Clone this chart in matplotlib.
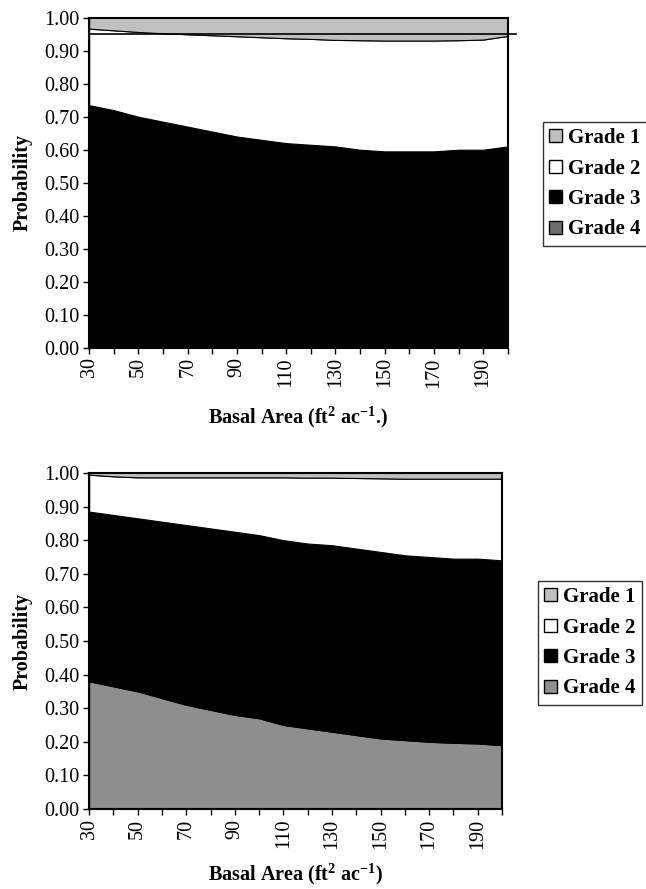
import matplotlib
matplotlib.use("Agg")
import matplotlib.pyplot as plt
from matplotlib.patches import Patch

plt.rcParams['font.family'] = ['Liberation Serif', 'DejaVu Serif']
plt.rcParams['mathtext.fontset'] = 'custom'
plt.rcParams['mathtext.rm'] = 'Liberation Serif:bold'
plt.rcParams['mathtext.bf'] = 'Liberation Serif:bold'

# basal area values
basal_area = [30, 40, 50, 60, 70, 80, 90, 100, 110, 120, 130, 140, 150, 160, 170, 180, 190, 200]

# top chart: probability of each grade
top_grade1 = [0.033, 0.038, 0.043, 0.047, 0.050, 0.053, 0.056, 0.059, 0.062, 0.064, 0.067, 0.068, 0.069, 0.069, 0.069, 0.068, 0.066, 0.055]
top_grade2 = [0.232, 0.242, 0.257, 0.268, 0.280, 0.292, 0.304, 0.311, 0.318, 0.321, 0.323, 0.332, 0.336, 0.336, 0.336, 0.332, 0.334, 0.335]
top_grade3 = [0.735, 0.720, 0.700, 0.685, 0.670, 0.655, 0.640, 0.630, 0.620, 0.615, 0.610, 0.600, 0.595, 0.595, 0.595, 0.600, 0.600, 0.610]
top_grade4 = [0.0] * 18
top_line = 0.95

# bottom chart
bot_grade1 = [0.005, 0.010, 0.013, 0.013, 0.013, 0.013, 0.013, 0.013, 0.013, 0.014, 0.014, 0.015, 0.016, 0.017, 0.017, 0.017, 0.017, 0.017]
bot_grade2 = [0.110, 0.115, 0.122, 0.132, 0.142, 0.152, 0.162, 0.172, 0.187, 0.196, 0.201, 0.210, 0.219, 0.228, 0.233, 0.238, 0.238, 0.243]
bot_grade3 = [0.505, 0.510, 0.515, 0.525, 0.535, 0.540, 0.545, 0.545, 0.550, 0.550, 0.555, 0.555, 0.555, 0.550, 0.550, 0.548, 0.550, 0.550]
bot_grade4 = [0.380, 0.365, 0.350, 0.330, 0.310, 0.295, 0.280, 0.270, 0.250, 0.240, 0.230, 0.220, 0.210, 0.205, 0.200, 0.197, 0.195, 0.190]

grades = ['Grade 1', 'Grade 2', 'Grade 3', 'Grade 4']
colors = {'Grade 1': '#c0c0c0', 'Grade 2': '#ffffff', 'Grade 3': '#000000', 'Grade 4': '#8e8e8e'}
legend_colors_top = {'Grade 1': '#c0c0c0', 'Grade 2': '#ffffff', 'Grade 3': '#000000', 'Grade 4': '#6e6e6e'}

FS = 14.5

fig = plt.figure(figsize=(6.46, 8.89), dpi=100)


def draw(ax, g1, g2, g3, g4, xlabel, leg_colors, leg_anchor, xpad):
    ax.stackplot(basal_area, g4, g3, g2, g1,
                 colors=[colors['Grade 4'], colors['Grade 3'], colors['Grade 2'], colors['Grade 1']],
                 edgecolor='black', linewidth=0.8)
    ax.set_xlim(30, 200)
    ax.set_ylim(0, 1)
    ax.set_xticks(range(30, 200, 20))
    ax.set_xticks(range(40, 201, 20), minor=True)
    ax.set_yticks([i / 10 for i in range(11)])
    ax.set_yticklabels(['%.2f' % (i / 10) for i in range(11)], fontsize=FS)
    ax.set_xticklabels([str(v) for v in range(30, 200, 20)], rotation=90, fontsize=FS)
    ax.tick_params(which='both', direction='out', length=4, width=1, pad=3)
    for s in ax.spines.values():
        s.set_linewidth(1.5)
    ax.set_ylabel('Probability', fontsize=FS, fontweight='bold', labelpad=8)
    ax.set_xlabel(xlabel, fontsize=FS, fontweight='bold', labelpad=xpad)
    handles = [Patch(facecolor=leg_colors[g], edgecolor='black', linewidth=1, label=g) for g in grades]
    leg = fig.legend(handles=handles, loc='upper left', bbox_to_anchor=leg_anchor,
                     borderaxespad=0, frameon=True, fancybox=False, edgecolor='black',
                     prop={'family': 'Liberation Serif', 'weight': 'bold', 'size': 15},
                     handlelength=0.6, handleheight=0.6, handletextpad=0.3,
                     labelspacing=0.5, borderpad=0.3)
    leg.get_frame().set_linewidth(1.0)


ax1 = fig.add_axes([0.138, 0.609, 0.648, 0.371])
draw(ax1, top_grade1, top_grade2, top_grade3, top_grade4,
     'Basal Area (ft$^{2}$ ac$^{-1}$.)', legend_colors_top, (0.8406, 0.8628), 12)
ax1.plot([30, 203.5], [top_line, top_line], color='black', linewidth=1.2, clip_on=False)

ax2 = fig.add_axes([0.138, 0.090, 0.639, 0.378])
draw(ax2, bot_grade1, bot_grade2, bot_grade3, bot_grade4,
     'Basal Area (ft$^{2}$ ac$^{-1}$)', colors, (0.8328, 0.3465), 9)

fig.savefig('out.png', dpi=100)
